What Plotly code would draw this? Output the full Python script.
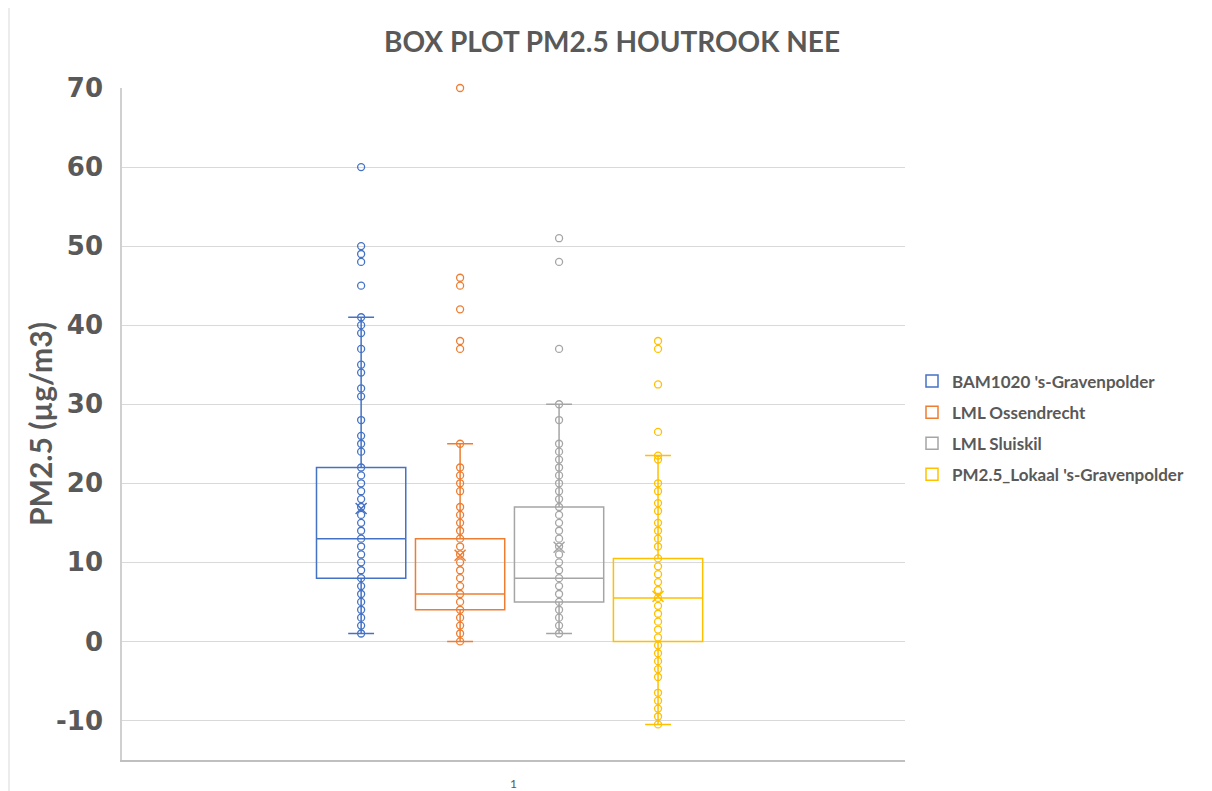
import plotly.graph_objects as go

# ---------------- data ----------------
series_names = ["BAM1020 's-Gravenpolder", "LML Ossendrecht", "LML Sluiskil",
                "PM2.5_Lokaal 's-Gravenpolder"]
colors = ["#4472C4", "#ED7D31", "#A5A5A5", "#FFC000"]
category = "1"

bam_points = [1, 2, 3, 4, 5, 6, 7, 8, 9, 10, 11, 12, 13, 14, 15, 16, 17, 18, 19, 20,
              21, 22, 24, 25, 26, 28, 31, 32, 34, 35, 37, 39, 40, 41, 45, 48, 49, 50, 60]
oss_points = [0, 1, 2, 3, 4, 5, 6, 7, 8, 9, 10, 11, 12, 13, 14, 15, 16, 17, 19, 20,
              21, 22, 25, 37, 38, 42, 45, 46, 70]
slu_points = [1, 2, 3, 4, 5, 6, 7, 8, 9, 10, 11, 12, 13, 14, 15, 16, 17, 18, 19, 20,
              21, 22, 23, 24, 25, 28, 30, 37, 48, 51]
lok_points = [-10.5, -9.5, -8.5, -7.5, -6.5, -4.5, -3.5, -2.5, -1.5, -0.5, 0.5, 1.5,
              2.5, 3.5, 4.5, 5.5, 6.5, 7.5, 8.5, 9.5, 10.5, 12, 13, 14, 15, 16.5, 17.5,
              19, 20, 23, 23.5, 26.5, 32.5, 37, 38]

q1_vals = [8, 4, 5, 0]
median_vals = [13, 6, 8, 5.5]
q3_vals = [22, 13, 17, 10.5]
lower_whisker = [1, 0, 1, -10.5]
upper_whisker = [41, 25, 30, 23.5]
mean_vals = [16.8, 10.9, 11.9, 5.7]

y_ticks = [-10, 0, 10, 20, 30, 40, 50, 60, 70]
y_tick_labels = ["-10", "0", "10", "20", "30", "40", "50", "60", "70"]

# ---------------- layout helpers ----------------
all_points = [bam_points, oss_points, slu_points, lok_points]
n = len(series_names)
slot = 0.1264           # horizontal slot per series within the category
box_w = 0.114           # box width in axis units
center = 1.0 - 0.005
positions = [center + (i - (n - 1) / 2) * slot for i in range(n)]

W, H = 1212, 791
ML, MR, MT, MB = 114, 315, 80, 39
PW = W - ML - MR
TXT = "#595959"
fig = go.Figure()

for i in range(n):
    c = colors[i]
    fig.add_trace(go.Box(
        x=[positions[i]], q1=[q1_vals[i]], median=[median_vals[i]], q3=[q3_vals[i]],
        lowerfence=[lower_whisker[i]], upperfence=[upper_whisker[i]],
        width=box_w, whiskerwidth=0.29, boxpoints=False,
        line=dict(color=c, width=1.5), fillcolor="rgba(255,255,255,0)",
        name=series_names[i], legendgroup=series_names[i], hoverinfo="skip",
    ))
for i in range(n):
    c = colors[i]
    pts = all_points[i]
    fig.add_trace(go.Scatter(
        x=[positions[i]] * len(pts), y=pts, mode="markers",
        marker=dict(symbol="circle-open", size=7, color=c, line=dict(width=1.3, color=c)),
        showlegend=False, legendgroup=series_names[i], cliponaxis=False, hoverinfo="skip",
    ))
    fig.add_trace(go.Scatter(
        x=[positions[i]], y=[mean_vals[i]], mode="markers",
        marker=dict(symbol="x-thin-open", size=11, color=c, line=dict(width=1.5, color=c)),
        showlegend=False, legendgroup=series_names[i], cliponaxis=False, hoverinfo="skip",
    ))

fig.update_layout(
    width=W, height=H,
    margin=dict(l=ML, r=MR, t=MT, b=MB, autoexpand=False),
    paper_bgcolor="white", plot_bgcolor="white",
    title=dict(text="<b>BOX PLOT PM2.5 HOUTROOK NEE</b>", x=604 / W, xanchor="center",
               y=1 - 34 / H, yanchor="middle",
               font=dict(family="Lato", size=28, color=TXT)),
    showlegend=True,
    legend=dict(x=(912 - 122) / PW, y=0.59, xanchor="left", yanchor="top",
                font=dict(family="Lato", size=17, color=TXT, weight="bold"),
                tracegroupgap=6, bgcolor="rgba(0,0,0,0)"),
    xaxis=dict(range=[0.5, 1.5], tickmode="array", tickvals=[1], ticktext=[category],
               showgrid=False, zeroline=False, showline=True, linecolor="#BFBFBF",
               linewidth=1.5, ticks="", ticklabelstandoff=12, automargin=False,
               tickfont=dict(family="Lato", size=12, color=TXT)),
    yaxis=dict(range=[-15, 70], tickmode="array", tickvals=y_ticks, ticktext=y_tick_labels,
               showgrid=True, gridcolor="#D9D9D9", gridwidth=1.2, zeroline=False,
               showline=True, linecolor="#D0D0D0", linewidth=1.5, ticks="",
               ticklabelstandoff=12, automargin=False,
               tickfont=dict(family="DejaVu Sans", size=26, color=TXT, weight="bold")),
    annotations=[dict(text="<b>PM2.5 (µg/m3)</b>", textangle=-90, xref="paper", yref="paper",
                      x=(40 - 122) / PW, y=0.5, xanchor="center", yanchor="middle",
                      showarrow=False, font=dict(family="Lato", size=30, color=TXT))],
    shapes=[dict(type="line", xref="paper", yref="paper",
                 x0=(9 - 122) / PW, x1=(9 - 122) / PW, y0=-0.1, y1=1.2,
                 line=dict(color="#D9D9D9", width=1))],
)

fig.write_html("out.html")
